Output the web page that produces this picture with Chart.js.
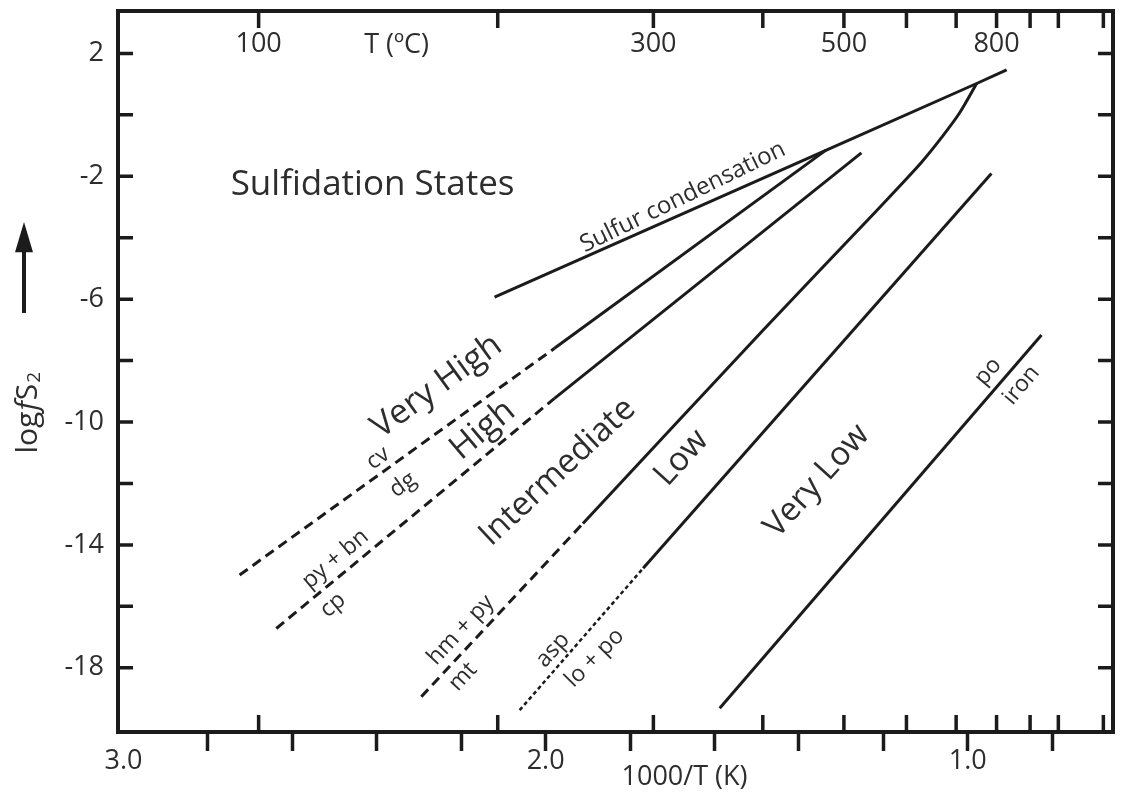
<!DOCTYPE html>
<html>
<head>
<meta charset="utf-8">
<script src="https://cdn.jsdelivr.net/npm/chart.js@4.4.1/dist/chart.umd.min.js"></script>
<style>
html,body{margin:0;padding:0;background:#fff;}
</style>
</head>
<body>
<canvas id="c" width="1123" height="795"></canvas>
<script>
// x: 1000/T (K), y: log fS2
const sulfurX = [2.121, 1.335, 0.979, 0.908];
const sulfurY = [-5.93, -1.15, 1.02, 1.46];
const cvDashX = [2.725, 1.979];
const cvDashY = [-14.98, -7.60];
const cvX = [1.979, 1.336];
const cvY = [-7.60, -1.15];
const cpDashX = [2.638, 1.979];
const cpDashY = [-16.72, -9.23];
const cpX = [1.979, 1.252];
const cpY = [-9.23, -1.24];
const mtDashX = [2.2945, 1.9116];
const mtDashY = [-18.94, -13.30];
const mtX = [1.9116, 1.485, 1.22, 1.16, 1.11, 1.06, 1.02, 0.979];
const mtY = [-13.30, -7.01, -3.18, -2.30, -1.55, -0.70, 0.05, 1.02];
const loDotX = [2.0616, 1.769];
const loDotY = [-19.38, -14.76];
const loX = [1.769, 0.944];
const loY = [-14.76, -1.91];
const ironX = [1.5877, 0.8254];
const ironY = [-19.32, -7.17];

const xTicks = [3.0, 2.8, 2.6, 2.4, 2.2, 2.0, 1.8, 1.6, 1.4, 1.2, 1.0, 0.8];
const xLabels = [3.0, 2.0, 1.0];
const yTicks = [2, 0, -2, -4, -6, -8, -10, -12, -14, -16, -18];
const yLabels = [2, -2, -6, -10, -14, -18];
const tempTicks = [100, 200, 300, 400, 500, 600, 700, 800, 900, 1000, 1200];
const tempLabels = [100, 300, 500, 800];

const INK = '#1b1b1b';
const TEXT = '#2d2d2d';
const FONT = '"Open Sans"';

const notes = [
	{t: 'Sulfidation States', x: 2.410, y: -2.29, r: 0, s: 35},
	{t: 'Sulfur condensation', x: 1.675, y: -2.68, r: -26, s: 24},
	{t: 'Very High', x: 2.258, y: -8.84, r: -36, s: 34},
	{t: 'High', x: 2.149, y: -10.26, r: -40, s: 34},
	{t: 'Intermediate', x: 1.9716, y: -11.63, r: -43, s: 33},
	{t: 'Low', x: 1.678, y: -11.17, r: -48, s: 33},
	{t: 'Very Low', x: 1.357, y: -11.92, r: -48, s: 33},
	{t: 'cv', x: 2.397, y: -11.18, r: -36, s: 23},
	{t: 'dg', x: 2.338, y: -12.05, r: -36, s: 23},
	{t: 'py + bn', x: 2.498, y: -14.46, r: -40, s: 23},
	{t: 'cp', x: 2.504, y: -15.96, r: -40, s: 23},
	{t: 'hm + py', x: 2.201, y: -16.77, r: -47, s: 23},
	{t: 'mt', x: 2.196, y: -18.29, r: -47, s: 23},
	{t: 'asp', x: 1.983, y: -17.42, r: -48, s: 23},
	{t: 'lo + po', x: 1.884, y: -17.68, r: -45, s: 23},
	{t: 'po', x: 0.952, y: -8.36, r: -50, s: 23},
	{t: 'iron', x: 0.873, y: -8.80, r: -50, s: 23}
];

function toInv(t) {
	return 1000 / (t + 273.15);
}

function line(xs, ys, dash, width, tension) {
	return {
		data: xs.map(function (x, i) { return {x: x, y: ys[i]}; }),
		showLine: true,
		borderColor: INK,
		borderWidth: width || 3,
		borderDash: dash || [],
		pointRadius: 0,
		fill: false,
		tension: tension || 0
	};
}

const decor = {
	id: 'decor',
	afterDraw: function (chart) {
		let ctx = chart.ctx, a = chart.chartArea;
		let sx = chart.scales.x, sy = chart.scales.y;
		ctx.save();
		ctx.strokeStyle = INK;
		ctx.lineWidth = 4;
		ctx.strokeRect(a.left, a.top, a.right - a.left, a.bottom - a.top);
		ctx.lineWidth = 3.5;
		ctx.beginPath();
		yTicks.forEach(function (v) {
			let p = sy.getPixelForValue(v);
			ctx.moveTo(a.left, p); ctx.lineTo(a.left + 15, p);
			ctx.moveTo(a.right, p); ctx.lineTo(a.right - 15, p);
		});
		tempTicks.forEach(function (t) {
			let p = sx.getPixelForValue(toInv(t));
			ctx.moveTo(p, a.top); ctx.lineTo(p, a.top + 17);
			ctx.moveTo(p, a.bottom); ctx.lineTo(p, a.bottom - 17);
		});
		ctx.stroke();

		ctx.fillStyle = TEXT;
		ctx.textAlign = 'center';
		ctx.textBaseline = 'middle';
		ctx.font = '27px ' + FONT;
		tempLabels.forEach(function (t) {
			ctx.fillText(String(t), sx.getPixelForValue(toInv(t)), a.top + 33);
		});
		ctx.fillText('T (\u00BAC)', sx.getPixelForValue(2.353), a.top + 34);
		ctx.fillText('1000/T (K)', sx.getPixelForValue(1.671), a.bottom + 45);

		notes.forEach(function (n) {
			ctx.save();
			ctx.translate(sx.getPixelForValue(n.x), sy.getPixelForValue(n.y));
			ctx.rotate(n.r * Math.PI / 180);
			ctx.font = n.s + 'px ' + FONT;
			ctx.fillText(n.t, 0, 0);
			ctx.restore();
		});

		// y title: log f S2, rotated
		let parts = [['log', '30px ' + FONT, 0], ['f', 'italic 30px ' + FONT, 0], ['S', '30px ' + FONT, 0], ['2', '19px ' + FONT, 7]];
		ctx.save();
		ctx.translate(28, sy.getPixelForValue(-9.68));
		ctx.rotate(-Math.PI / 2);
		ctx.textAlign = 'left';
		let total = 0;
		parts.forEach(function (p) { ctx.font = p[1]; total += ctx.measureText(p[0]).width + 1; });
		let cx = -total / 2;
		parts.forEach(function (p) {
			ctx.font = p[1];
			ctx.fillText(p[0], cx, p[2]);
			cx += ctx.measureText(p[0]).width + 1;
		});
		ctx.restore();

		// arrow
		let tip = sy.getPixelForValue(-3.49), base = sy.getPixelForValue(-4.47), tail = sy.getPixelForValue(-6.45);
		ctx.fillStyle = INK;
		ctx.fillRect(22, base - 1, 4, tail - base + 1);
		ctx.beginPath();
		ctx.moveTo(24, tip); ctx.lineTo(33, base); ctx.lineTo(15, base);
		ctx.closePath();
		ctx.fill();
		ctx.restore();
	}
};

new Chart(document.getElementById('c'), {
	type: 'scatter',
	data: {
		datasets: [
			line(sulfurX, sulfurY),
			line(cvDashX, cvDashY, [10, 6]),
			line(cvX, cvY),
			line(cpDashX, cpDashY, [10, 6]),
			line(cpX, cpY),
			line(mtDashX, mtDashY, [10, 6]),
			line(mtX, mtY, null, 3, 0.25),
			line(loDotX, loDotY, [4, 3], 2.5),
			line(loX, loY),
			line(ironX, ironY)
		]
	},
	options: {
		responsive: false,
		animation: false,
		devicePixelRatio: 1,
		layout: {padding: {top: 11, right: 10, left: 0, bottom: 0}},
		plugins: {legend: {display: false}, tooltip: {enabled: false}},
		scales: {
			x: {
				type: 'linear',
				reverse: true,
				min: 0.656,
				max: 3.013,
				afterBuildTicks: function (s) { s.ticks = xTicks.map(function (v) { return {value: v}; }); },
				afterFit: function (s) { s.height = 63; s.paddingLeft = 0; s.paddingRight = 0; },
				border: {display: false},
				grid: {
					drawOnChartArea: false,
					drawTicks: true,
					tickLength: 19,
					tickWidth: 3.5,
					tickColor: function (c) { return c.tick && c.tick.value > 2.9 ? 'rgba(0,0,0,0)' : INK; }
				},
				ticks: {
					autoSkip: false,
					maxRotation: 0,
					padding: -6,
					color: TEXT,
					font: {family: 'Open Sans', size: 27},
					callback: function (v) { return xLabels.indexOf(v) >= 0 ? v.toFixed(1) : ''; }
				}
			},
			y: {
				type: 'linear',
				min: -20.09,
				max: 3.38,
				afterBuildTicks: function (s) { s.ticks = yTicks.map(function (v) { return {value: v}; }); },
				afterFit: function (s) { s.width = 118; s.paddingTop = 0; s.paddingBottom = 0; },
				border: {display: false},
				grid: {display: false, drawTicks: false},
				ticks: {
					autoSkip: false,
					padding: 14,
					color: TEXT,
					font: {family: 'Open Sans', size: 27},
					callback: function (v) { return yLabels.indexOf(v) >= 0 ? String(v) : ''; }
				}
			}
		}
	},
	plugins: [decor]
});
</script>
</body>
</html>
